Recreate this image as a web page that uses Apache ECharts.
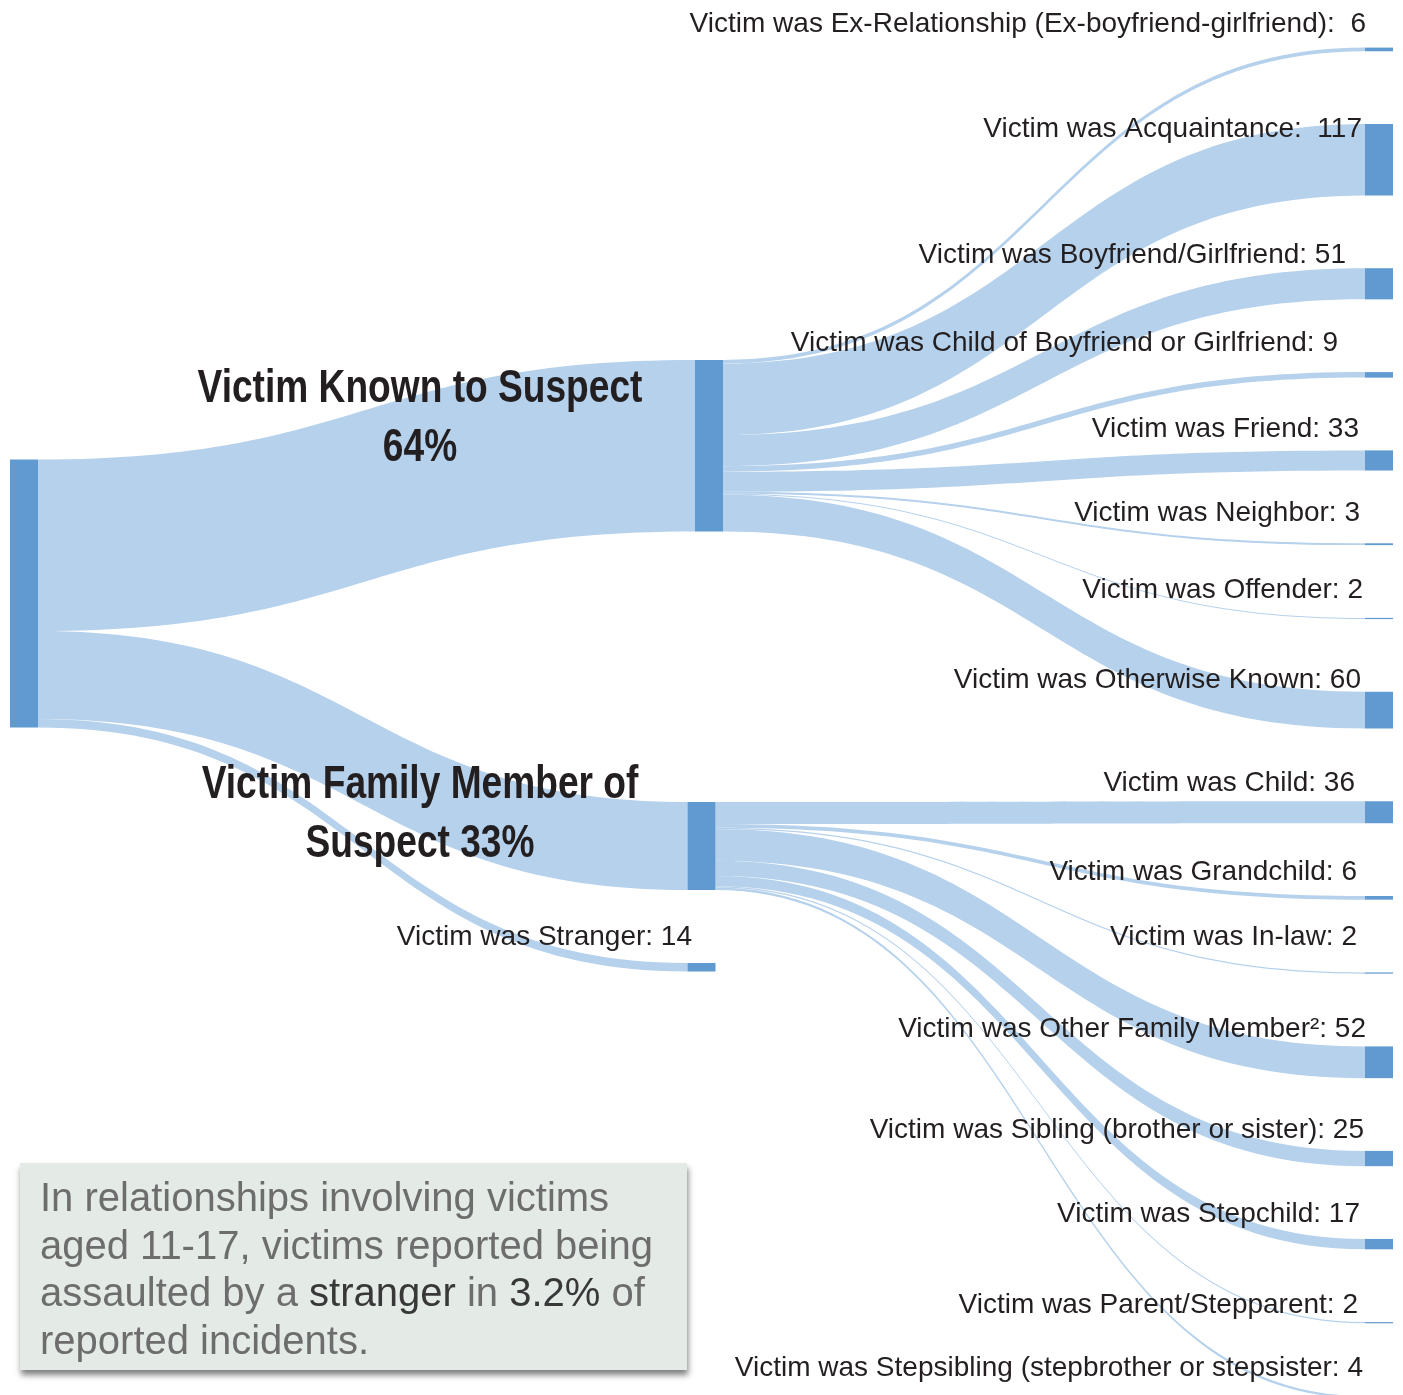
<!DOCTYPE html>
<html>
<head>
<meta charset="utf-8">
<script src="https://cdn.jsdelivr.net/npm/echarts@6/dist/echarts.min.js"></script>
<style>
  html, body { margin: 0; padding: 0; background: #ffffff; }
  #chart { width: 1403px; height: 1395px; }
</style>
</head>
<body>
<div id="chart"></div>
<script>
// Relationship of victim to suspect (victims aged 11-17)
const rootName = 'All reported incidents';
const groupNames = ['Victim Known to Suspect', 'Victim Family Member of Suspect', 'Victim was Stranger'];

const knownCategories = [
  'Victim was Ex-Relationship (Ex-boyfriend-girlfriend)',
  'Victim was Acquaintance',
  'Victim was Boyfriend/Girlfriend',
  'Victim was Child of Boyfriend or Girlfriend',
  'Victim was Friend',
  'Victim was Neighbor',
  'Victim was Offender',
  'Victim was Otherwise Known'
];
const knownValues = [6, 117, 51, 9, 33, 3, 2, 60];

const familyCategories = [
  'Victim was Child',
  'Victim was Grandchild',
  'Victim was In-law',
  'Victim was Other Family Member\u00B2',
  'Victim was Sibling (brother or sister)',
  'Victim was Stepchild',
  'Victim was Parent/Stepparent',
  'Victim was Stepsibling (stepbrother or stepsister'
];
const familyValues = [36, 6, 2, 52, 25, 17, 2, 4];

const strangerValue = 14;

// ---- totals derived from the data ----
const sum = arr => arr.reduce((s, v) => s + v, 0);
const knownTotal = sum(knownValues);
const familyTotal = sum(familyValues);
const grandTotal = knownTotal + familyTotal + strangerValue;
const share = (v, digits) => (v / grandTotal * 100).toFixed(digits);

const valueByName = {};
valueByName[rootName] = grandTotal;
valueByName[groupNames[0]] = knownTotal;
valueByName[groupNames[1]] = familyTotal;
valueByName[groupNames[2]] = strangerValue;
knownCategories.forEach((n, i) => { valueByName[n] = knownValues[i]; });
familyCategories.forEach((n, i) => { valueByName[n] = familyValues[i]; });

// ---- layout / styling ----
const FONT = '"Liberation Sans", Arial, sans-serif';
const TEXT_DARK = '#231f20';

// Placement of the root and middle-column nodes (fractions of the series box)
const columnPlacement = {
  root:   { localY: 0.3049 },
  known:  { localX: 0.4953, localY: 0.2312 },
  family: { localY: 0.5585 },
  stranger: { localY: 0.6776 }
};

// Label anchor for each leaf node: [x, y] relative to the node's top-left corner
const leafLabelAnchor = [
  [1, -23.6], [-3, 5], [-19, -12.7], [-27, -28.8], [-6, -21.3], [-5, -30.3], [-2, -27.9], [-4, -11.9],
  [-10, -18.3], [-8, -24.1], [-8, -35.4], [1, -17.4], [-1, -21], [-5, -24.9], [-7, -17], [-2, -28]
];
const leafSeparator = { 0: ':  ', 1: ':  ' };

const nodes = [];
nodes.push(Object.assign({ name: rootName, label: { show: false } }, columnPlacement.root));
nodes.push(Object.assign({ name: groupNames[0], label: { show: false } }, columnPlacement.known));
nodes.push(Object.assign({ name: groupNames[1], label: { show: false } }, columnPlacement.family));
nodes.push(Object.assign({
  name: groupNames[2],
  label: { position: [4.5, -26], align: 'right', verticalAlign: 'middle' }
}, columnPlacement.stranger));

const allLeaves = knownCategories.concat(familyCategories);
allLeaves.forEach((name, i) => {
  nodes.push({
    name: name,
    label: { position: leafLabelAnchor[i], align: 'right', verticalAlign: 'middle' }
  });
});

const links = [
  { source: rootName, target: groupNames[0], value: knownTotal },
  { source: rootName, target: groupNames[1], value: familyTotal },
  { source: rootName, target: groupNames[2], value: strangerValue }
];
knownCategories.forEach((n, i) => links.push({ source: groupNames[0], target: n, value: knownValues[i] }));
familyCategories.forEach((n, i) => links.push({ source: groupNames[1], target: n, value: familyValues[i] }));

function labelText(p) {
  const idx = allLeaves.indexOf(p.name);
  const sep = leafSeparator[idx] || ': ';
  return p.name + sep + valueByName[p.name];
}

// Condensed bold heading for a middle-column group
function heading(text, cx, cy) {
  return {
    type: 'text',
    x: cx,
    y: cy,
    scaleX: 0.79,
    z: 100,
    style: {
      text: text,
      fontFamily: FONT,
      fontWeight: 'bold',
      fontSize: 47,
      lineHeight: 59,
      fill: TEXT_DARK,
      align: 'center',
      verticalAlign: 'middle',
      textAlign: 'center',
      textVerticalAlign: 'middle'
    }
  };
}

const chart = echarts.init(document.getElementById('chart'), null, { renderer: 'canvas' });

chart.setOption({
  animation: false,
  backgroundColor: '#ffffff',
  series: [{
    type: 'sankey',
    left: 10,
    right: 10,
    top: 47.6,
    bottom: -3.5,
    nodeWidth: 28,
    nodeGap: 72.76,
    nodeAlign: 'left',
    layoutIterations: 0,
    draggable: false,
    emphasis: { disabled: true },
    itemStyle: { color: '#6199d1', borderWidth: 0 },
    lineStyle: { color: '#b5d1ec', opacity: 1, curveness: 0.5 },
    label: {
      show: true,
      fontFamily: FONT,
      fontSize: 28,
      color: TEXT_DARK,
      formatter: labelText
    },
    data: nodes,
    links: links
  }],
  graphic: [
    heading('Victim Known to Suspect\n' + share(knownTotal, 0) + '%', 420, 418.5),
    heading('Victim Family Member of\nSuspect ' + share(familyTotal, 0) + '%', 420, 814.5),
    {
      type: 'group',
      children: [{
        type: 'rect',
        shape: { x: 20, y: 1163, width: 667, height: 207 },
        style: {
          fill: '#e4ebe7',
          shadowBlur: 6,
          shadowOffsetX: 1,
          shadowOffsetY: 5,
          shadowColor: 'rgba(0,0,0,0.5)'
        }
      }, {
        type: 'text',
        x: 40,
        y: 1176.5,
        style: {
          text: 'In relationships involving victims\naged 11-17, victims reported being\nassaulted by a {b|stranger} in {b|' +
                share(strangerValue, 1) + '%} of\nreported incidents.',
          fontFamily: FONT,
          fontSize: 40,
          lineHeight: 47.5,
          fill: '#6d6d6d',
          rich: {
            b: { fontFamily: FONT, fontSize: 40, lineHeight: 47.5, fill: '#383838' }
          }
        }
      }]
    }
  ]
});
</script>
</body>
</html>
